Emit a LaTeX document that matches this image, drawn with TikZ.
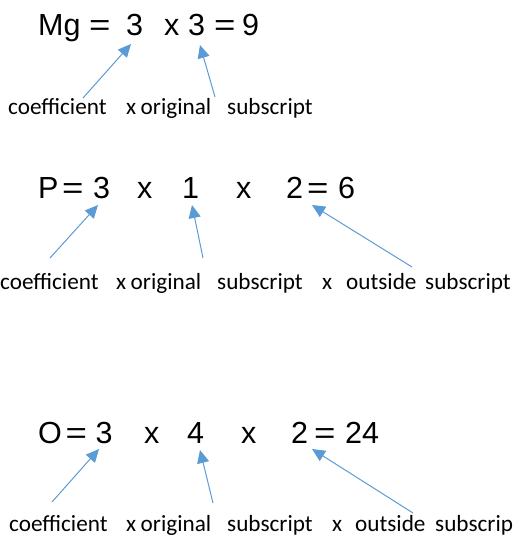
\documentclass[tikz,border=0pt]{standalone}
\usepackage{fontspec}
\newfontfamily\eqfont{Liberation Sans}
\newfontfamily\lblfont{Carlito}
\usetikzlibrary{arrows.meta}
\definecolor{arrowblue}{HTML}{5B9BD5}
\newcommand{\wideeq}{\scalebox{1.2}[1]{=}}
\tikzset{
  eq/.style={inner sep=0pt, anchor=base west, font=\eqfont\fontsize{30.5}{30.5}\selectfont},
  lbl/.style={inner sep=0pt, anchor=base west, font=\lblfont\fontsize{23.2}{23.2}\selectfont},
  pointer/.style={draw=arrowblue, line width=1pt, -{Triangle[length=13pt,width=12pt]}, color=arrowblue}
}
\begin{document}
\begin{tikzpicture}[x=1pt,y=-1pt]
\useasboundingbox (0,0) rectangle (513,537);
% line 1
\node[eq] (mg) at (38,36) {Mg};
\node[eq] (e1a) at (89,36) {\wideeq};
\node[eq] (n1a) at (126,36) {3};
\node[eq] (x1a) at (164,36) {x};
\node[eq] (n1b) at (188,36) {3};
\node[eq] (e1b) at (214,36) {\wideeq};
\node[eq] (r1) at (242,36) {9};
\node[lbl] (c1) at (8,115) {coefficient};
\node[lbl] (lx1) at (126,115) {x};
\node[lbl] (o1) at (140.5,115) {original};
\node[lbl] (s1) at (227,115) {subscript};
\coordinate (a1s) at (83,98);  \coordinate (a1t) at (131,44);
\coordinate (b1s) at (215,97); \coordinate (b1t) at (200,45);
\draw[pointer] (a1s) -- (a1t);
\draw[pointer] (b1s) -- (b1t);
% line 2
\node[eq] (p) at (38,199) {P};
\node[eq] (e2a) at (62,199) {\wideeq};
\node[eq] (n2a) at (93,199) {3};
\node[eq] (x2a) at (137,199) {x};
\node[eq] (n2b) at (182,199) {1};
\node[eq] (x2b) at (236,199) {x};
\node[eq] (n2c) at (286,199) {2};
\node[eq] (e2b) at (307,199) {\wideeq};
\node[eq] (r2) at (338,199) {6};
\node[lbl] (c2) at (0,289) {coefficient};
\node[lbl] (lx2) at (116,289) {x};
\node[lbl] (o2) at (130.5,289) {original};
\node[lbl] (s2) at (217,289) {subscript};
\node[lbl] (lx2b) at (322,289) {x};
\node[lbl] (out2) at (346,289) {outside};
\node[lbl] (s2b) at (425,289) {subscript};
\coordinate (a2s) at (50,258);  \coordinate (a2t) at (98,205);
\coordinate (b2s) at (203,258); \coordinate (b2t) at (192,205);
\coordinate (c2s) at (412,267); \coordinate (c2t) at (312,205);
\draw[pointer] (a2s) -- (a2t);
\draw[pointer] (b2s) -- (b2t);
\draw[pointer] (c2s) -- (c2t);
% line 3
\node[eq] (o) at (38,443) {O};
\node[eq] (e3a) at (65.5,443) {\wideeq};
\node[eq] (n3a) at (95.5,443) {3};
\node[eq] (x3a) at (144,443) {x};
\node[eq] (n3b) at (187,443) {4};
\node[eq] (x3b) at (241,443) {x};
\node[eq] (n3c) at (291,443) {2};
\node[eq] (e3b) at (314,443) {\wideeq};
\node[eq] (r3) at (345,443) {24};
\node[lbl] (c3) at (9,531) {coefficient};
\node[lbl] (lx3) at (126,531) {x};
\node[lbl] (o3) at (140.5,531) {original};
\node[lbl] (s3) at (227,531) {subscript};
\node[lbl] (lx3b) at (332,531) {x};
\node[lbl] (out3) at (355,531) {outside};
\node[lbl] (s3b) at (435,531) {subscrip};
\coordinate (a3s) at (52,502);  \coordinate (a3t) at (99,449);
\coordinate (b3s) at (213,503); \coordinate (b3t) at (200,450);
\coordinate (c3s) at (413,513); \coordinate (c3t) at (312,449);
\draw[pointer] (a3s) -- (a3t);
\draw[pointer] (b3s) -- (b3t);
\draw[pointer] (c3s) -- (c3t);
\end{tikzpicture}
\end{document}
